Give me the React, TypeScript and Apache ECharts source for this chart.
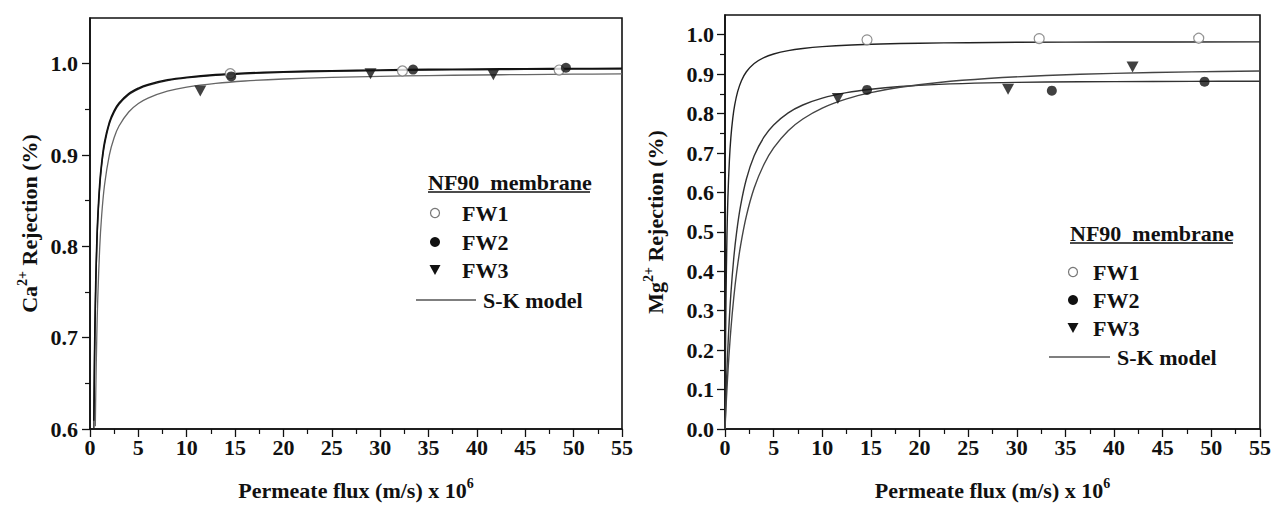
import React, { useEffect, useRef } from "react";
import * as echarts from "echarts";

// ---------- tick labels ----------
const caYTickValues = [0.6, 0.7, 0.8, 0.9, 1.0];
const caYMinorValues = [0.65, 0.75, 0.85, 0.95];
const mgYTickValues = [0, 0.1, 0.2, 0.3, 0.4, 0.5, 0.6, 0.7, 0.8, 0.9, 1.0];
const mgYMinorValues = [0.05, 0.15, 0.25, 0.35, 0.45, 0.55, 0.65, 0.75, 0.85, 0.95];

// ---------- Ca2+ measured points ----------
const caFW1Flux = [14.5, 32.3, 48.5];
const caFW1Rej = [0.989, 0.992, 0.993];
const caFW2Flux = [14.6, 33.4, 49.2];
const caFW2Rej = [0.986, 0.9935, 0.9955];
const caFW3Flux = [11.4, 29.0, 41.7];
const caFW3Rej = [0.970, 0.989, 0.988];

// ---------- Ca2+ S-K model curves ----------
const caSK1Flux = [0.4, 0.45, 0.5, 0.6, 0.7, 0.8, 1.0, 1.2, 1.5, 2.0, 2.5, 3, 4, 5, 6, 8, 10, 13, 16, 20, 25, 30, 35, 40, 45, 50, 55];
const caSK1Rej = [0.6, 0.657, 0.7, 0.758, 0.798, 0.827, 0.864, 0.888, 0.911, 0.934, 0.9468, 0.9555, 0.966, 0.9722, 0.9764, 0.9815, 0.9845, 0.9873, 0.989, 0.9905, 0.9916, 0.9924, 0.993, 0.9934, 0.9937, 0.994, 0.9942];
const caSK2Flux = [0.4, 0.45, 0.5, 0.6, 0.7, 0.8, 1.0, 1.2, 1.5, 2.0, 2.5, 3, 4, 5, 6, 8, 10, 13, 16, 20, 25, 30, 35, 40, 45, 50, 55];
const caSK2Rej = [0.609, 0.664, 0.706, 0.764, 0.803, 0.831, 0.868, 0.891, 0.914, 0.936, 0.9485, 0.9569, 0.9672, 0.9732, 0.9773, 0.9823, 0.9852, 0.988, 0.9897, 0.9912, 0.9923, 0.9931, 0.9937, 0.9941, 0.9944, 0.9947, 0.9949];
const caSK3Flux = [0.55, 0.6, 0.7, 0.8, 1.0, 1.2, 1.5, 2.0, 2.5, 3, 4, 5, 6, 8, 10, 13, 16, 20, 25, 30, 35, 40, 45, 50, 55];
const caSK3Rej = [0.603, 0.642, 0.7, 0.742, 0.7976, 0.833, 0.867, 0.8999, 0.9191, 0.9317, 0.9471, 0.9563, 0.9623, 0.9698, 0.9743, 0.9784, 0.981, 0.9832, 0.985, 0.9861, 0.987, 0.9876, 0.9881, 0.9885, 0.9888];

// ---------- Mg2+ measured points ----------
const mgFW1Flux = [14.6, 32.3, 48.7];
const mgFW1Rej = [0.987, 0.990, 0.991];
const mgFW2Flux = [14.6, 33.6, 49.3];
const mgFW2Rej = [0.860, 0.858, 0.881];
const mgFW3Flux = [11.6, 29.1, 41.9];
const mgFW3Rej = [0.838, 0.862, 0.918];

// ---------- Mg2+ S-K model curves ----------
const mgSK1Flux = [0, 0.05, 0.1, 0.2, 0.3, 0.45, 0.6, 0.8, 1.0, 1.3, 1.7, 2.2, 3, 4, 5, 6.5, 8, 10, 13, 16, 20, 25, 30, 40, 55];
const mgSK1Rej = [0, 0.1941, 0.3246, 0.489, 0.5883, 0.6805, 0.7383, 0.7885, 0.8221, 0.8557, 0.884, 0.9061, 0.9271, 0.9421, 0.9512, 0.9598, 0.9651, 0.9697, 0.9739, 0.9764, 0.9784, 0.9798, 0.9809, 0.9815, 0.9819];
const mgSK2Flux = [0, 0.15, 0.35, 0.6, 0.9, 1.2, 1.6, 2.2, 3, 4, 5, 6.5, 8, 10, 12.5, 15, 18, 22, 27, 33, 40, 48, 55];
const mgSK2Rej = [0, 0.1175, 0.2345, 0.3414, 0.4331, 0.5, 0.5659, 0.634, 0.6929, 0.74, 0.7711, 0.8017, 0.8217, 0.8392, 0.853, 0.8618, 0.8686, 0.874, 0.8778, 0.88, 0.8811, 0.8817, 0.8819];
const mgSK3Flux = [0, 0.15, 0.35, 0.6, 0.9, 1.2, 1.6, 2.2, 3, 4, 5, 6.5, 8, 10, 12.5, 15, 18, 22, 27, 33, 40, 48, 55];
const mgSK3Rej = [0, 0.0782, 0.1645, 0.251, 0.3328, 0.3975, 0.4652, 0.5406, 0.6111, 0.671, 0.713, 0.7565, 0.7862, 0.8139, 0.8371, 0.8531, 0.8666, 0.8789, 0.8889, 0.8965, 0.902, 0.9058, 0.9079];

const FONT = "'Liberation Serif', 'Times New Roman', Times, serif";
const TRI = "path://M0,0L10,0L5,9Z";

const zip = (xs: number[], ys: number[]) => xs.map((x, i) => [x, ys[i]]);

function scatter(name: string, xs: number[], ys: number[], idx: number, kind: string) {
  const base: any = {
    type: "scatter",
    name,
    xAxisIndex: idx,
    yAxisIndex: idx * 2,
    data: zip(xs, ys),
    z: 5,
  };
  if (kind === "open") {
    base.symbol = "circle";
    base.symbolSize = 10;
    base.itemStyle = { color: "#fff", borderColor: "#777", borderWidth: 1.2 };
  } else if (kind === "filled") {
    base.symbol = "circle";
    base.symbolSize = 10;
    base.itemStyle = { color: "#111" };
  } else {
    base.symbol = TRI;
    base.symbolSize = [12, 11];
    base.itemStyle = { color: "#111" };
  }
  return base;
}

function curve(xs: number[], ys: number[], idx: number, color: string, width: number) {
  return {
    type: "line",
    name: "S-K model",
    xAxisIndex: idx,
    yAxisIndex: idx * 2,
    data: zip(xs, ys),
    showSymbol: false,
    symbol: "none",
    smooth: 0.35,
    clip: true,
    lineStyle: { color, width },
    z: 3,
  };
}

const labelStyle = { fontFamily: FONT, fontWeight: "bold" as const, fontSize: 22, color: "#111" };

function makeX(gridIndex: number) {
  return {
    type: "value",
    gridIndex,
    min: 0,
    max: 55,
    interval: 5,
    name: "{b|Permeate flux (m/s) x 10}{s|6}",
    nameLocation: "middle",
    nameGap: 47,
    nameTextStyle: {
      rich: {
        b: { fontFamily: FONT, fontWeight: "bold", fontSize: 22, color: "#111", lineHeight: 28 },
        s: { fontFamily: FONT, fontWeight: "bold", fontSize: 14, color: "#111", lineHeight: 28, verticalAlign: "top" },
      },
    },
    axisLine: { show: true, onZero: false, lineStyle: { color: "#111", width: 1.6 } },
    axisTick: { show: true, length: 8, lineStyle: { color: "#111", width: 1.3 } },
    minorTick: { show: true, splitNumber: 2, length: 5, lineStyle: { color: "#111", width: 1.2 } },
    axisLabel: { ...labelStyle, margin: 7 },
    splitLine: { show: false },
  };
}

function makeY(gridIndex: number, min: number, max: number, majors: number[], minors: number[], ion: string, gap: number, margin: number) {
  return [
    {
      type: "value",
      gridIndex,
      min,
      max,
      position: "left",
      name: `{b|${ion}}{s|2+}{b| Rejection (%)}`,
      nameLocation: "middle",
      nameRotate: 90,
      nameGap: gap,
      nameTextStyle: {
        rich: {
          b: { fontFamily: FONT, fontWeight: "bold", fontSize: 22, color: "#111", lineHeight: 28 },
          s: { fontFamily: FONT, fontWeight: "bold", fontSize: 14, color: "#111", lineHeight: 28, verticalAlign: "top" },
        },
      },
      axisLine: { show: true, onZero: false, lineStyle: { color: "#111", width: 1.6 } },
      axisTick: { show: true, length: 8, customValues: majors, lineStyle: { color: "#111", width: 1.3 } },
      axisLabel: {
        ...labelStyle,
        margin,
        customValues: majors,
        formatter: (v: number) => v.toFixed(1),
      },
      splitLine: { show: false },
    },
    {
      type: "value",
      gridIndex,
      min,
      max,
      position: "left",
      axisLine: { show: false },
      axisTick: { show: true, length: 5, customValues: minors, lineStyle: { color: "#111", width: 1.2 } },
      axisLabel: { show: false },
      splitLine: { show: false },
    },
  ];
}

function legendGraphics(tx: number, ty: number, ulEnd: number, sy: number[], symX: number, textX: number, lineX1: number, lineX2: number, skX: number) {
  const ts = { fontFamily: FONT, fontWeight: "bold", fontSize: 22, fill: "#111", verticalAlign: "middle" };
  return [
    { type: "text", x: tx, y: ty, style: { ...ts, text: "NF90  membrane" } },
    { type: "line", shape: { x1: tx, y1: ty + 10, x2: ulEnd, y2: ty + 10 }, style: { stroke: "#111", lineWidth: 1.5 } },
    { type: "circle", shape: { cx: symX, cy: sy[0], r: 4.5 }, style: { fill: "#fff", stroke: "#777", lineWidth: 1.2 } },
    { type: "text", x: textX, y: sy[0], style: { ...ts, text: "FW1" } },
    { type: "circle", shape: { cx: symX, cy: sy[1], r: 5 }, style: { fill: "#111" } },
    { type: "text", x: textX, y: sy[1], style: { ...ts, text: "FW2" } },
    {
      type: "polygon",
      shape: { points: [[symX - 5.5, sy[2] - 5], [symX + 5.5, sy[2] - 5], [symX, sy[2] + 5]] },
      style: { fill: "#111" },
    },
    { type: "text", x: textX, y: sy[2], style: { ...ts, text: "FW3" } },
    { type: "line", shape: { x1: lineX1, y1: sy[3], x2: lineX2, y2: sy[3] }, style: { stroke: "#555", lineWidth: 1.3 } },
    { type: "text", x: skX, y: sy[3], style: { ...ts, text: "S-K model" } },
  ];
}

export default function App() {
  const ref = useRef<HTMLDivElement>(null);
  useEffect(() => {
    if (!ref.current) return;
    const chart = echarts.init(ref.current, undefined, { renderer: "svg" });
    const option: any = {
      animation: false,
      backgroundColor: "#fff",
      textStyle: { fontFamily: FONT },
      grid: [
        { left: 90, top: 18, width: 532, height: 417, show: true, borderColor: "#111", borderWidth: 1.6, backgroundColor: "transparent" },
        { left: 725, top: 15, width: 535, height: 420, show: true, borderColor: "#111", borderWidth: 1.6, backgroundColor: "transparent" },
      ],
      xAxis: [makeX(0), makeX(1)],
      yAxis: [
        ...makeY(0, 0.6, 1.05, caYTickValues, caYMinorValues, "Ca", 47, 12),
        ...makeY(1, 0, 1.05, mgYTickValues, mgYMinorValues, "Mg", 56, 11),
      ],
      series: [
        curve(caSK1Flux, caSK1Rej, 0, "#222", 1.4),
        curve(caSK2Flux, caSK2Rej, 0, "#111", 1.6),
        curve(caSK3Flux, caSK3Rej, 0, "#666", 1.3),
        scatter("FW1", caFW1Flux, caFW1Rej, 0, "open"),
        scatter("FW2", caFW2Flux, caFW2Rej, 0, "filled"),
        scatter("FW3", caFW3Flux, caFW3Rej, 0, "tri"),
        curve(mgSK1Flux, mgSK1Rej, 1, "#222", 1.4),
        curve(mgSK2Flux, mgSK2Rej, 1, "#333", 1.4),
        curve(mgSK3Flux, mgSK3Rej, 1, "#444", 1.4),
        scatter("FW1", mgFW1Flux, mgFW1Rej, 1, "open"),
        scatter("FW2", mgFW2Flux, mgFW2Rej, 1, "filled"),
        scatter("FW3", mgFW3Flux, mgFW3Rej, 1, "tri"),
      ],
      graphic: [
        ...legendGraphics(428, 182, 590, [213, 242, 270, 300], 435, 462, 416, 476, 483),
        ...legendGraphics(1070, 233, 1233, [272, 300, 328, 357], 1073, 1093, 1049, 1110, 1117),
      ],
    };
    chart.setOption(option);
    return () => chart.dispose();
  }, []);
  return (
    <div
      ref={ref}
      style={{ position: "absolute", left: 0, top: 0, width: 1274, height: 506, background: "#fff" }}
    />
  );
}
